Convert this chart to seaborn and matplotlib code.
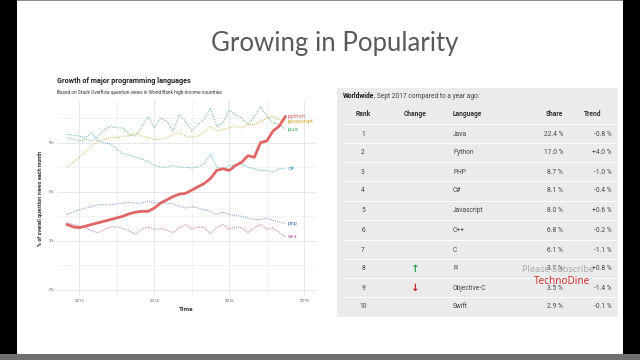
import numpy as np
import pandas as pd
import seaborn as sns
import matplotlib.pyplot as plt
from matplotlib.patches import Rectangle

# samples every 2 months, Sep 2011 .. Jul 2017, % of question views
dates = pd.date_range('2011-09-01', periods=36, freq='2MS')

python = [4.0, 3.85, 3.8, 3.9, 4.0, 4.1, 4.2, 4.3, 4.4, 4.5, 4.65, 4.75,
          4.8, 4.8, 5.0, 5.3, 5.5, 5.7, 5.85, 5.9, 6.1, 6.3, 6.5, 6.8,
          7.3, 7.4, 7.3, 7.6, 7.8, 8.2, 8.1, 9.0, 9.1, 9.7, 10.0, 10.6]
javascript = [7.5, 7.8, 8.1, 8.4, 8.8, 9.1, 9.2, 9.3, 9.3, 9.4, 9.4, 9.6,
              9.4, 9.3, 9.2, 9.2, 9.3, 9.5, 9.6, 9.4, 9.3, 9.4, 9.6, 10.0,
              9.7, 9.8, 9.9, 10.0, 9.9, 10.1, 10.1, 10.3, 10.5, 10.6, 10.4, 10.3]
java = [9.3, 9.2, 9.1, 9.2, 9.1, 9.4, 9.8, 10.0, 9.9, 9.9, 9.5, 9.4,
        10.0, 10.6, 9.9, 10.5, 10.3, 9.7, 10.7, 10.3, 9.7, 10.1, 10.4, 11.1,
        10.0, 10.2, 11.0, 10.7, 10.5, 10.1, 10.6, 11.2, 10.6, 10.2, 10.1, 9.8]
csharp = [9.5, 9.45, 9.4, 9.3, 9.6, 9.1, 9.0, 8.9, 8.6, 8.3, 8.25, 8.1,
          8.0, 7.85, 7.6, 7.5, 7.5, 7.6, 7.5, 7.5, 7.45, 7.5, 7.7, 8.3,
          7.5, 7.4, 7.6, 7.6, 7.7, 7.5, 7.4, 7.3, 7.3, 7.2, 7.4, 7.4]
php = [4.6, 4.75, 4.9, 5.0, 5.1, 5.2, 5.2, 5.2, 5.25, 5.3, 5.35, 5.3,
       5.3, 5.45, 5.3, 5.35, 5.3, 5.25, 5.1, 5.0, 5.1, 5.0, 4.9, 4.8,
       4.6, 4.75, 4.6, 4.55, 4.5, 4.4, 4.3, 4.3, 4.4, 4.25, 4.15, 4.05]
cpp = [4.1, 4.0, 3.9, 3.8, 3.6, 3.5, 3.7, 3.85, 3.85, 3.75, 3.6, 3.4,
       3.7, 3.85, 3.7, 3.75, 3.65, 3.5, 3.8, 4.0, 3.7, 3.85, 3.8, 3.45,
       3.8, 4.0, 3.7, 3.85, 3.8, 3.5, 3.8, 4.0, 3.7, 3.8, 3.5, 3.25]

languages = ['python', 'javascript', 'java', 'c#', 'php', 'c++']
series = [python, javascript, java, csharp, php, cpp]
colors = ['#e06666', '#d4a72c', '#4caf6a', '#3d9fbd', '#5b80c4', '#b552a8']

y_ticks = [0, 3, 6, 9]
x_years = [2012, 2014, 2016, 2018]

# table (PYPL, Sept 2017)
ranks = ['1', '2', '3', '4', '5', '6', '7', '8', '9', '10']
tbl_langs = ['Java', 'Python', 'PHP', 'C#', 'Javascript', 'C++', 'C', 'R',
             'Objective-C', 'Swift']
shares = ['22.4 %', '17.0 %', '8.7 %', '8.1 %', '8.0 %', '6.8 %', '6.1 %',
          '3.7 %', '3.5 %', '2.9 %']
trends = ['-0.8 %', '+4.0 %', '-1.0 %', '-0.4 %', '+0.6 %', '-0.2 %',
          '-1.1 %', '+0.8 %', '-1.4 %', '-0.1 %']
changes = ['', '', '', '', '', '', '', 'up', 'down', '']

df = pd.concat([pd.DataFrame({'date': dates, 'share': vals, 'language': lang})
                for lang, vals in zip(languages, series)])

sns.set_theme(style='whitegrid')
plt.rcParams['font.family'] = ['Roboto', 'DejaVu Sans']

fig = plt.figure(figsize=(6.4, 3.6), dpi=100)
fig.patch.set_facecolor('black')
# slide background (behind the axes)
fig.patches.append(Rectangle((17/640, 6/360), 606/640, 353/360,
                             transform=fig.transFigure, facecolor='white',
                             edgecolor='none', zorder=-5))
fig.patches.append(Rectangle((0, 0), 1, 6/360, transform=fig.transFigure,
                             facecolor='#707070', edgecolor='none', zorder=-5))
fig.patches.append(Rectangle((17/640, 359/360), 606/640, 1/360,
                             transform=fig.transFigure, facecolor='#8a8a8a',
                             edgecolor='none', zorder=-5))

fig.text(335/640, 1 - 44/360, 'Growing in Popularity', ha='center', va='center',
         fontsize=18.5, family=['Lato', 'DejaVu Sans'], fontweight='normal',
         color='#5a5a5a')

# ---- left chart ----
ax = fig.add_axes([57/640, 64/360, 259/640, 196/360])
ax.set_facecolor('white')
for lang, col in zip(languages, colors):
    sub = df[df['language'] == lang]
    if lang == 'python':
        sns.lineplot(data=sub, x='date', y='share', ax=ax, color=col, lw=2.0,
                     zorder=5)
    else:
        sns.lineplot(data=sub, x='date', y='share', ax=ax, color=col, lw=0.8,
                     linestyle=(0, (1, 1)), alpha=0.7)
    ax.text(sub['date'].iloc[-1] + pd.Timedelta(days=20), sub['share'].iloc[-1],
            lang, color=col, fontsize=4.3, va='center', ha='left')

ax.set_xlim(pd.Timestamp('2011-05-28'), pd.Timestamp('2018-04-25'))
ax.set_ylim(-0.37, 11.6)
ax.set_yticks(y_ticks)
ax.set_yticklabels([f'{v}%' for v in y_ticks])
ax.set_yticks([1.5, 4.5, 7.5, 10.5], minor=True)
ax.set_xticks([pd.Timestamp(f'{y}-01-01') for y in x_years])
ax.set_xticklabels([str(y) for y in x_years])
ax.set_xticks([pd.Timestamp(f'{y}-01-01') for y in [2013, 2015, 2017]], minor=True)
ax.grid(which='major', color='#e4e4e4', lw=0.6)
ax.grid(which='minor', color='#efefef', lw=0.5)
ax.tick_params(axis='both', which='both', length=0, labelsize=3.2,
               colors='#666666', pad=2)
for s in ax.spines.values():
    s.set_visible(False)
ax.set_xlabel('Time', fontsize=4.6, fontweight='bold', color='#333333', labelpad=3)
ax.set_ylabel('% of overall question views each month', fontsize=3.9,
              fontweight='bold', color='#333333', labelpad=4)

fig.text(57/640, 1 - 81/360, 'Growth of major programming languages',
         fontsize=5.2, fontweight='bold', color='#222222', va='center')
fig.text(57/640, 1 - 92/360,
         'Based on Stack Overflow question views in World Bank high-income countries',
         fontsize=3.4, color='#333333', va='center')

# ---- right table ----
at = fig.add_axes([337/640, 43/360, 281/640, 229/360])
at.set_facecolor('#ebebeb')
at.set_xlim(337, 618)
at.set_ylim(317, 88)
at.set_xticks([])
at.set_yticks([])
at.grid(False)
for s in at.spines.values():
    s.set_visible(False)

txt = dict(fontsize=4.8, color='#444444', va='center')
head = at.text(343, 96, 'Worldwide', fontsize=4.8, fontweight='bold',
               color='#111111', va='center')
at.annotate(', Sept 2017 compared to a year ago:', xy=(1, 0.5), xycoords=head,
            va='center', ha='left', fontsize=4.8, color='#444444')

hy = 114
hdr = dict(fontweight='bold', fontsize=4.8, color='#333333', va='center')
at.text(363, hy, 'Rank', ha='center', **hdr)
at.text(415, hy, 'Change', ha='center', **hdr)
at.text(453, hy, 'Language', ha='left', **hdr)
at.text(563, hy, 'Share', ha='right', **hdr)
at.text(593, hy, 'Trend', ha='center', **hdr)

row_y = [134, 153, 172, 191, 211, 230, 250, 269, 288, 307]
for i, ry in enumerate(row_y):
    at.text(363, ry, ranks[i], ha='center', **txt)
    at.text(453, ry, tbl_langs[i], ha='left', **txt)
    at.text(563, ry, shares[i], ha='right', **txt)
    at.text(612, ry, trends[i], ha='right', **txt)
    if changes[i] == 'up':
        at.text(415, ry, '↑', ha='center', va='center', fontsize=7.5,
                fontweight='bold', color='#2e9e4f', family='DejaVu Sans')
    elif changes[i] == 'down':
        at.text(415, ry, '↓', ha='center', va='center', fontsize=7.5,
                fontweight='bold', color='#c8232c', family='DejaVu Sans')
    at.hlines(ry - 9.6, 343, 617, color='white', lw=0.7)

# watermark
at.text(558, 269, 'Please Subscribe', ha='center', va='center', fontsize=6.6,
        color='#999999', alpha=0.8, family=['Noto Sans', 'DejaVu Sans'])
at.text(562, 281, 'TechnoDine', ha='center', va='center', fontsize=7.2,
        color='#d03030', family=['Noto Sans', 'DejaVu Sans'])

fig.savefig('out.png', dpi=100, facecolor=fig.get_facecolor())
